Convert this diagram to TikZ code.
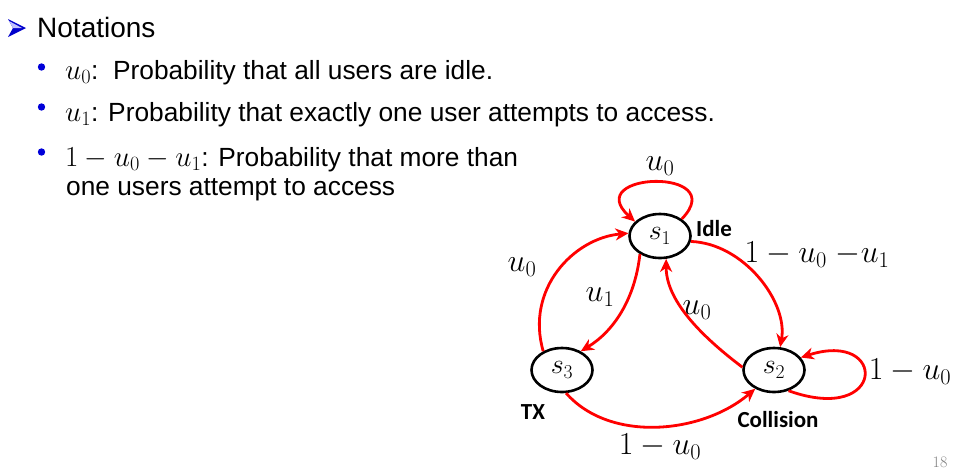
\RequirePackage{fix-cm}
\documentclass[tikz,border=0pt]{standalone}
\usepackage[no-math]{fontspec}
\newfontfamily\arialfont{Liberation Sans}
\newfontfamily\calfont{Carlito}
\usepackage{tikz}
\usetikzlibrary{arrows.meta,shapes.geometric}
\newcommand\pmath[1]{{\fontsize{29}{29}\selectfont$#1$}}

\begin{document}
\begin{tikzpicture}[x=1pt,y=-1pt,
  state/.style={ellipse,draw,line width=2.6pt,minimum width=61pt,minimum height=44pt,inner sep=0pt,font=\fontsize{28}{28}\selectfont},
  trans/.style={red,line width=2.8pt,-{Stealth[length=13pt,width=12pt,inset=4pt]}},
  prob/.style={font=\fontsize{32}{32}\selectfont,inner sep=0pt},
  tag/.style={font=\calfont\bfseries\fontsize{23}{23}\selectfont,inner sep=0pt},
  txt/.style={font=\arialfont\fontsize{26.3}{26.3}\selectfont,anchor=base west,inner sep=0pt},
  bulletdot/.style={blue!85!black}]
  \useasboundingbox (0,0) rectangle (958,475);
  % heading with its arrow mark
  \fill[blue!80!black] (8,19) -- (26,28) -- (8,37) -- (13,28) -- cycle;
  \fill[blue!25] (9,21) -- (22,28) -- (13,28) -- cycle;
  \node[txt,font=\arialfont\fontsize{28}{28}\selectfont] (head) at (37,37) {Notations};
  % bullets
  \fill[bulletdot] (41.5,67) circle[radius=3.7pt];
  \fill[bulletdot] (41.5,107) circle[radius=3.7pt];
  \fill[bulletdot] (41.5,152) circle[radius=3.7pt];
  \node[txt] (b1) at (65,79) {\pmath{u_0}:\ \ Probability that all users are idle.};
  \node[txt] (b2) at (65,121) {\pmath{u_1}: Probability that exactly one user attempts to access.};
  \node[txt] (b3) at (65,166) {\pmath{1 - u_0 - u_1}: Probability that more than};
  \node[txt] (b3b) at (66,195) {one users attempt to access};
  % states
  \node[state] (s1) at (660,236) {$s_1$};
  \node[state] (s3) at (562,370) {$s_3$};
  \node[state] (s2) at (774,370) {$s_2$};
  \node[tag] (idle) at (714,229) {Idle};
  \node[tag] (tx) at (533,412) {TX};
  \node[tag] (coll) at (778,420) {Collision};
  % transitions
  \draw[trans] (s1.38) .. controls +(50,-52) and +(-55,-50) .. (s1.150);
  \draw[trans] (s3.135) .. controls +(-18,-62) and +(-55,5) .. (s1.175);
  \draw[trans] (s1.222) .. controls +(-5,45) and +(33,-20) .. (s3.45);
  \draw[trans] (s2.175) .. controls +(-45,-34) and +(0,40) .. (s1.285);
  \draw[trans] (s1.350) .. controls +(53,2) and +(8,-45) .. (s2.75);
  \draw[trans] (s2.-55) .. controls +(98,35) and +(87,-28) .. (s2.25);
  \draw[trans] (s3.-80) .. controls +(44,50) and +(-53,45) .. (s2.225);
  \node[prob] (l11) at (660,166) {$u_0$};
  \node[prob] (l31) at (522,267) {$u_0$};
  \node[prob] (l13) at (600,297) {$u_1$};
  \node[prob] (l21) at (697,310) {$u_0$};
  \node[prob] (l12) at (817,255) {$1-u_0\;{-}u_1$};
  \node[prob] (l22) at (910,372) {$1-u_0$};
  \node[prob] (l32) at (660,447) {$1-u_0$};
  \node[font=\fontsize{16}{16}\selectfont,text=gray,inner sep=0pt] (pg) at (940,462) {18};
\end{tikzpicture}
\end{document}
